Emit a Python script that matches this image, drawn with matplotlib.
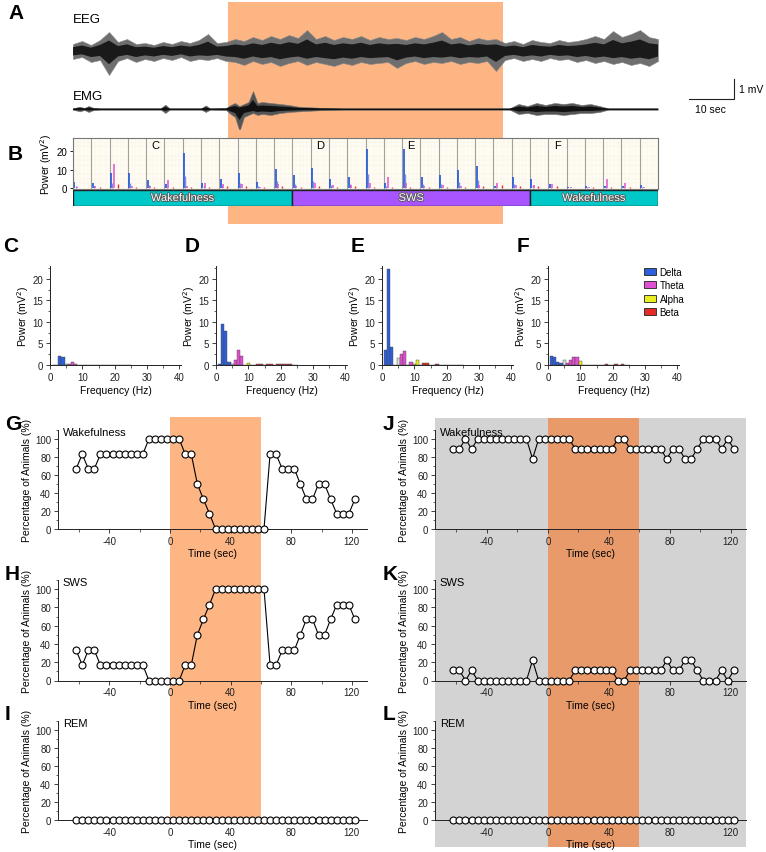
import numpy as np
import matplotlib
matplotlib.use("Agg")
import matplotlib.pyplot as plt
from matplotlib.patches import Rectangle, Patch
from matplotlib.ticker import MultipleLocator
import matplotlib.patheffects as pe

plt.rcParams['font.family'] = ['Liberation Sans', 'DejaVu Sans']
plt.rcParams['axes.unicode_minus'] = False

# ---------------- DATA ----------------
# Panel A: EEG / EMG envelopes (mV), time in s
eeg_t = list(range(0, 131, 2))
eeg_hi = [.35, .5, .3, .55, .95, .45, .6, .35, .4, .3, .45, .35, .5, .4, .55, .85, .4, .45,
          .6, .5, .7, .55, .75, .6, .8, .65, 1.05, .6, .75, .55, .7, .6, .75, .55, .7, .6, .65, .55,
          .7, .6, .75, .95, .6, .7, .5, .65, .55, .6,
          .4, .5, .35, .55, .45, .4, .55, .45, .5, .6, .75, .6, 1.0, .7, .85, 1.05, .7, .6]
eeg_lo = [-.4, -.3, -.55, -.45, -1.2, -.5, -.35, -.55, -.4, -.5, -.35, -.45, -.3, -.5, -.4, -.45, -.35, -.5,
          -.55, -.7, -.5, -.65, -.55, -.75, -.6, -.5, -.7, -.55, -.65, -.75, -.6, -.7, -.55, -.65, -.6, -.55,
          -.85, -.6, -.5, -.65, -.55, -.6, -.5, -.65, -.55, -.6, -.5, -1.0,
          -.45, -.35, -.5, -.4, -.5, -.35, -.45, -.4, -.55, -.45, -.6, -.5, -.65, -.55, -.7, -.6, -.75, -.5]
emg_t = [0, 1.5, 2.5, 3.5, 4.5, 6, 19.5, 20.5, 21.5, 28.5, 29.5, 30.5,
         34, 35, 36, 37, 38, 39, 40, 41, 42, 44, 46, 48, 50, 55, 60,
         97, 99, 101, 103, 105, 107, 109, 111, 113, 115, 117, 119, 130]
emg_hi = [.03, .12, .05, .15, .06, .03, .03, .22, .03, .03, .18, .03,
          .05, .2, .3, .15, .25, .35, .9, .3, .35, .3, .25, .2, .12, .06, .03,
          .03, .25, .15, .3, .2, .3, .25, .3, .2, .25, .15, .03, .03]
emg_lo = [-.03, -.12, -.05, -.15, -.06, -.03, -.03, -.2, -.03, -.03, -.15, -.03,
          -.05, -.25, -.4, -1.1, -.4, -.3, -.2, -.3, -.25, -.3, -.2, -.15, -.12, -.06, -.03,
          -.03, -.25, -.2, -.3, -.25, -.25, -.3, -.25, -.2, -.2, -.15, -.03, -.03]
stim_A = (34.5, 95.5)

# Panel B: 32 short-epoch spectra (peak power per band, mV^2)
b_delta = [3.5, 3, 8, 8, 4.5, 2, 19, 2.5, 5, 8, 3.5, 10.5, 7, 11, 5, 6, 21, 3, 21, 6, 7, 9.5, 12, 1,
           6, 5, 2, 0.5, 1, 1, 1, 1.5]
b_theta = [0.8, 1, 13, 1, 1, 4.5, 1, 3, 2, 2, 0.8, 2, 1, 3, 1.5, 1.5, 3, 6, 3, 1, 1.5, 1, 1.5, 2.5,
           1.5, 1.5, 2, 0.5, 0.5, 5, 3, 0.5]
b_beta = [0.3, 0.4, 2, 0.6, 0.5, 0.5, 0.5, 0.8, 0.9, 1, 0.7, 1.2, 0.6, 0.9, 0.8, 1, 0.8, 0.7, 0.7, 0.6,
          0.8, 0.6, 0.9, 1.5, 1.2, 0.9, 1.2, 0.3, 0.4, 0.6, 0.5, 0.2]
states = [("Wakefulness", 0, 12), ("SWS", 12, 25), ("Wakefulness", 25, 32)]
epoch_marks = {"C": 4, "D": 13, "E": 18, "F": 26}

# Panels C-F: spectra, 1..25 Hz bins
freqs = list(range(1, 26))
spec_C = [0.1, 0.1, 2.1, 1.8, 0.3, 0.15, 0.6, 0.15, 0.1, 0.05, 0.05, 0.05, 0.1, 0.1, 0.1, 0.05,
          0.1, 0.1, 0.05, 0.05, 0.1, 0.1, 0.05, 0.05, 0.1]
spec_D = [0.2, 9.6, 7.8, 0.6, 0.3, 1.2, 3.4, 2.1, 0.1, 0.35, 0.1, 0.1, 0.2, 0.2, 0.1, 0.2,
          0.2, 0.1, 0.2, 0.15, 0.2, 0.25, 0.2, 0.1, 0.1]
spec_E = [3.4, 22.3, 4.1, 0.0, 1.7, 2.6, 3.3, 0.1, 0.7, 0.3, 1.1, 0.1, 0.4, 0.4, 0.1, 0.1,
          0.2, 0.1, 0.1, 0.1, 0.1, 0.1, 0.1, 0.1, 0.1]
spec_F = [2.2, 1.9, 0.7, 0.4, 1.1, 0.5, 1.2, 1.8, 1.8, 1.0, 0.1, 0.1, 0.1, 0.1, 0.1, 0.1,
          0.1, 0.2, 0.1, 0.1, 0.2, 0.1, 0.2, 0.1, 0.1]
band_names = ["Delta", "Theta", "Alpha", "Beta"]

# Panels G-L: percentage of animals per 4-s bin
t_bins = np.arange(-62, 123, 4)
G_wake = [67, 83, 67, 67, 83, 83, 83, 83, 83, 83, 83, 83, 100, 100, 100, 100, 100, 100, 83, 83,
          50, 33, 17, 0, 0, 0, 0, 0, 0, 0, 0, 0, 83, 83, 67, 67, 67, 50, 33, 33, 50, 50, 33, 17, 17, 17, 33]
H_sws = [33, 17, 33, 33, 17, 17, 17, 17, 17, 17, 17, 17, 0, 0, 0, 0, 0, 0, 17, 17,
         50, 67, 83, 100, 100, 100, 100, 100, 100, 100, 100, 100, 17, 17, 33, 33, 33, 50, 67, 67, 50, 50, 67, 83, 83, 83, 67]
I_rem = [0] * 47
J_wake = [89, 89, 100, 89, 100, 100, 100, 100, 100, 100, 100, 100, 100, 78, 100, 100, 100, 100, 100, 100,
          89, 89, 89, 89, 89, 89, 89, 100, 100, 89, 89, 89, 89, 89, 89, 78, 89, 89, 78, 78, 89, 100, 100, 100, 89, 100, 89]
K_sws = [11, 11, 0, 11, 0, 0, 0, 0, 0, 0, 0, 0, 0, 22, 0, 0, 0, 0, 0, 0,
         11, 11, 11, 11, 11, 11, 11, 0, 0, 11, 11, 11, 11, 11, 11, 22, 11, 11, 22, 22, 11, 0, 0, 0, 11, 0, 11]
L_rem = [0] * 47
stim = (0, 60)

# ---------------- STYLE ----------------
W, H = 766, 853
ORANGE = '#fcb583'
ORANGE_DK = '#e89a6a'
GRAY = '#d3d3d3'
C_DELTA, C_THETA, C_ALPHA, C_BETA, C_GAP = '#2f5fd8', '#e050d0', '#e8ee20', '#e52a2a', '#d9d9d9'

fig = plt.figure(figsize=(W / 100, H / 100), dpi=100)


def px_axes(l, t, r, b, **kw):
    return fig.add_axes([l / W, 1 - b / H, (r - l) / W, (b - t) / H], **kw)


bg = px_axes(0, 0, W, H)
bg.set_xlim(0, W)
bg.set_ylim(H, 0)
bg.axis('off')
bg.set_zorder(-10)


def letter(x, y, s):
    bg.text(x, y, s, fontsize=15, fontweight='bold', ha='left', va='center')


def style(ax, lw=0.7):
    for s in ['top', 'right']:
        ax.spines[s].set_visible(False)
    for s in ['left', 'bottom']:
        ax.spines[s].set_linewidth(lw)
        ax.spines[s].set_color('#222222')
    ax.tick_params(which='major', direction='out', length=3, width=0.6, labelsize=7, pad=2, colors='#222222')
    ax.tick_params(which='minor', direction='out', length=1.8, width=0.5, colors='#222222')


# ---------------- PANEL A ----------------
A_l, A_r, A_t, A_b = 73, 658, 10, 130
A_xlim, A_ylim = (0, 130), (-1, 5)
axA = px_axes(A_l, A_t, A_r, A_b, facecolor='none')
axA.set_xlim(*A_xlim)
axA.set_ylim(*A_ylim)
axA.axis('off')
pxs = (A_r - A_l) / (A_xlim[1] - A_xlim[0])
pmv = (A_b - A_t) / (A_ylim[1] - A_ylim[0])
sx0 = A_l + (stim_A[0] - A_xlim[0]) * pxs
sx1 = A_l + (stim_A[1] - A_xlim[0]) * pxs
bg.add_patch(Rectangle((sx0, 3), sx1 - sx0, 222, color=ORANGE, lw=0))
eeg_base, emg_base = 2.9, 0.0
ehi, elo = np.array(eeg_hi), np.array(eeg_lo)
axA.fill_between(eeg_t, eeg_base + elo, eeg_base + ehi, facecolor='#6e6e6e', edgecolor='#8a8a8a', lw=0.4)
axA.fill_between(eeg_t, eeg_base + 0.55 * elo, eeg_base + 0.55 * ehi, facecolor='#1a1a1a', lw=0)
mhi, mlo = np.array(emg_hi), np.array(emg_lo)
axA.fill_between(emg_t, emg_base + mlo, emg_base + mhi, facecolor='#555555', edgecolor='#777777', lw=0.4)
axA.fill_between(emg_t, emg_base + 0.5 * mlo, emg_base + 0.5 * mhi, facecolor='#111111', lw=0)
axA.plot(A_xlim, [emg_base, emg_base], color='#111111', lw=1.0)
bg.text(73, 20, 'EEG', fontsize=9.5, va='center')
bg.text(73, 97, 'EMG', fontsize=9.5, va='center')
letter(8, 13, 'A')
# scale bar: 10 s and 1 mV
sb_x, sb_y = 734, 100
bg.plot([sb_x - 10 * pxs, sb_x, sb_x], [sb_y, sb_y, sb_y - 1 * pmv], color='#222222', lw=0.8)
bg.text(sb_x + 5, sb_y - 0.5 * pmv, '1 mV', fontsize=7.5, va='center')
bg.text(sb_x - 10 * pxs + 6, sb_y + 10, '10 sec', fontsize=7.5, va='center')

# ---------------- PANEL B ----------------
axB = px_axes(73, 139, 658, 190, facecolor='#fffcf3')
n_ep = len(b_delta)
axB.set_xlim(0, n_ep)
axB.set_ylim(-0.5, 27)
axB.xaxis.set_minor_locator(MultipleLocator(0.2))
axB.yaxis.set_minor_locator(MultipleLocator(2.5))
axB.grid(which='minor', color='#ece4d2', lw=0.35, ls=':')
axB.set_xticks([])
axB.set_yticks([0, 10, 20])
axB.tick_params(axis='y', labelsize=7, length=2.5, width=0.6, pad=1.5)
axB.tick_params(axis='y', which='minor', length=0)
axB.tick_params(axis='x', which='minor', length=0)
for s in axB.spines.values():
    s.set_color('#777777')
    s.set_linewidth(0.8)
ep = np.arange(n_ep)
axB.vlines(ep, -0.5, 27, color='#a0a0a0', lw=0.8)
axB.vlines(ep + 0.08, 0, b_delta, color=C_DELTA, lw=1.3)
axB.vlines(ep + 0.14, 0, np.array(b_delta) * 0.35, color='#7f8fe8', lw=1.0)
axB.vlines(ep + 0.22, 0, b_theta, color=C_THETA, lw=1.1)
axB.vlines(ep + 0.45, 0, b_beta, color=C_BETA, lw=1.0)
for k, i in epoch_marks.items():
    axB.text(i + 0.3, 23, k, fontsize=8, va='center')
axB.set_ylabel('Power (mV$^2$)', fontsize=7.5, labelpad=2)
letter(8, 154, 'B')

axS = px_axes(73, 191, 658, 207)
axS.set_xlim(0, n_ep)
axS.set_ylim(0, 1)
axS.axis('off')
st_col = {'Wakefulness': '#00c8c8', 'SWS': '#a855ff'}
for name, a, b in states:
    axS.add_patch(Rectangle((a, 0), b - a, 1, facecolor=st_col[name], edgecolor='#222222', lw=1.0))
    axS.text((a + b) / 2, 0.5, name, fontsize=8, color='white', ha='center', va='center',
             path_effects=[pe.withStroke(linewidth=1.2, foreground='#555555')])

# ---------------- PANELS C-F ----------------
band_of = []
for f in freqs:
    if f <= 4:
        band_of.append(C_DELTA)
    elif f == 5:
        band_of.append(C_GAP)
    elif f <= 9:
        band_of.append(C_THETA)
    elif f <= 12:
        band_of.append(C_ALPHA)
    else:
        band_of.append(C_BETA)

spec_panels = [('C', spec_C, 50), ('D', spec_D, 216), ('E', spec_E, 382), ('F', spec_F, 548)]
for lab, spec, left in spec_panels:
    ax = px_axes(left, 267, left + 131, 366, facecolor='none')
    ax.bar(freqs, spec, width=1.0, color=band_of, edgecolor='#444444', linewidth=0.3)
    ax.set_xlim(0, 40.5)
    ax.set_ylim(0, 23)
    ax.set_xticks([0, 10, 20, 30, 40])
    ax.set_yticks([0, 5, 10, 15, 20])
    ax.xaxis.set_minor_locator(MultipleLocator(5))
    ax.yaxis.set_minor_locator(MultipleLocator(2.5))
    style(ax)
    ax.set_xlabel('Frequency (Hz)', fontsize=7.5, labelpad=2)
    ax.set_ylabel('Power (mV$^2$)', fontsize=7.5, labelpad=1)
    letter(left - 47 if lab == 'C' else left - 31, 246, lab)
    if lab == 'F':
        handles = [Patch(facecolor=c, edgecolor='#222222', lw=0.6) for c in (C_DELTA, C_THETA, C_ALPHA, C_BETA)]
        ax.legend(handles, band_names, loc='upper left', bbox_to_anchor=(0.7, 1.03), frameon=False,
                  fontsize=7, handlelength=1.3, handleheight=0.75, handletextpad=0.35,
                  labelspacing=0.35, borderaxespad=0)

# ---------------- PANELS G-L ----------------
XL = (-74, 130)
left_col = (58, 367)
right_col = (435, 746)
rows = [(431, 530), (581, 681.5), (722, 821)]


def tx(t, col):
    return col[0] + (t - XL[0]) / (XL[1] - XL[0]) * (col[1] - col[0])


# backgrounds
bg.add_patch(Rectangle((tx(stim[0], left_col), 418), tx(stim[1], left_col) - tx(stim[0], left_col),
                       403, color=ORANGE, lw=0))
bg.add_patch(Rectangle((right_col[0], 419), right_col[1] - right_col[0], 429, color=GRAY, lw=0))
bg.add_patch(Rectangle((tx(stim[0], right_col), 419), tx(stim[1], right_col) - tx(stim[0], right_col),
                       429, color=ORANGE_DK, lw=0))

series = [('G', G_wake, 'Wakefulness', left_col, 0), ('H', H_sws, 'SWS', left_col, 1),
          ('I', I_rem, 'REM', left_col, 2), ('J', J_wake, 'Wakefulness', right_col, 0),
          ('K', K_sws, 'SWS', right_col, 1), ('L', L_rem, 'REM', right_col, 2)]
letter_y = [425, 575, 715]
for lab, vals, name, col, r in series:
    top, bot = rows[r]
    ax = px_axes(col[0], top, col[1], bot, facecolor='none')
    ax.plot(t_bins, vals, color='black', lw=0.8, marker='o', ms=5, mfc='white', mec='black',
            mew=0.8, clip_on=False, zorder=3)
    ax.set_xlim(*XL)
    ax.set_ylim(0, 110)
    ax.set_xticks([-40, 0, 40, 80, 120])
    ax.set_yticks([0, 20, 40, 60, 80, 100])
    ax.xaxis.set_minor_locator(MultipleLocator(20))
    ax.yaxis.set_minor_locator(MultipleLocator(10))
    style(ax)
    ax.set_xlabel('Time (sec)', fontsize=7.5, labelpad=1.5)
    ax.set_ylabel('Percentage of Animals (%)', fontsize=7.5, labelpad=2)
    ax.text(0.015, 108, name, transform=ax.get_yaxis_transform(), fontsize=8, va='center', ha='left')
    letter(5 if col == left_col else 383, letter_y[r], lab)

fig.savefig('out.png', dpi=100)
